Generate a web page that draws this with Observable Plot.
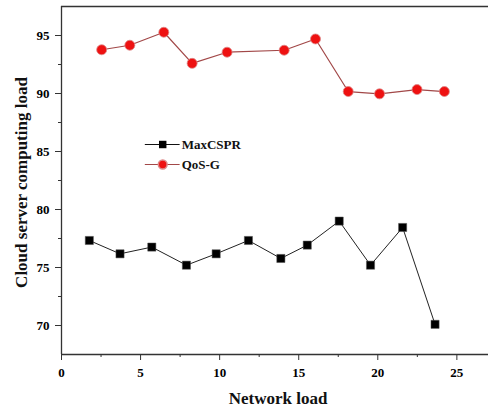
<!DOCTYPE html>
<html>
<head>
<meta charset="utf-8">
<script src="https://cdn.jsdelivr.net/npm/d3@7"></script>
<script src="https://cdn.jsdelivr.net/npm/@observablehq/plot@0.6"></script>
<style>
  html, body { margin: 0; padding: 0; background: #fff; }
  #chart svg { display: block; }
</style>
</head>
<body>
<div id="chart"></div>
<script>
// ---- data ----
const maxX = [1.76, 3.70, 5.71, 7.90, 9.78, 11.82, 13.87, 15.54, 17.56, 19.54, 21.57, 23.62];
const maxY = [77.33, 76.18, 76.76, 75.20, 76.18, 77.33, 75.78, 76.93, 79.00, 75.20, 78.45, 70.10];
const qosX = [2.54, 4.32, 6.47, 8.26, 10.47, 14.08, 16.06, 18.13, 20.11, 22.48, 24.21];
const qosY = [93.77, 94.16, 95.28, 92.60, 93.56, 93.73, 94.70, 90.17, 89.97, 90.34, 90.17];
const xTicks = [0, 5, 10, 15, 20, 25];
const xMinor = [2.5, 7.5, 12.5, 17.5, 22.5];
const yTicks = [70, 75, 80, 85, 90, 95];
const yMinor = [72.5, 77.5, 82.5, 87.5, 92.5];
const legendLabels = ["MaxCSPR", "QoS-G"];
const xTitle = "Network load";
const yTitle = "Cloud server computing load";

const maxData = maxX.map((x, i) => ({x, y: maxY[i]}));
const qosData = qosX.map((x, i) => ({x, y: qosY[i]}));

const font = "'Liberation Serif', 'Times New Roman', serif";
const axisCol = "#333";
const redFill = "#ee1111";
const redLine = "#a24848";

const legendItems = [
  {label: legendLabels[0], dy: 138, stroke: "#111", fill: "#000", symbol: "square", r: 4.2},
  {label: legendLabels[1], dy: 158, stroke: redLine, fill: redFill, symbol: "circle", r: 4.4}
];

const chart = Plot.plot({
  width: 488,
  height: 409,
  marginLeft: 61,
  marginRight: 0,
  marginTop: 6,
  marginBottom: 55,
  style: {fontFamily: font, fontWeight: "bold", background: "#fff", overflow: "visible"},
  x: {domain: [0, 27]},
  y: {domain: [67.5, 97.5]},
  marks: [
    // frame lines
    Plot.ruleY([97.5], {stroke: axisCol, strokeWidth: 1.6}),
    Plot.ruleX([0], {stroke: axisCol, strokeWidth: 1.3}),
    Plot.ruleY([67.5], {stroke: axisCol, strokeWidth: 1.3}),
    // axes
    Plot.axisX({ticks: xTicks, tickSize: 6, tickPadding: 7, fontSize: 13, fontWeight: "bold", stroke: axisCol, label: null, tickFormat: d => String(d)}),
    Plot.axisX({ticks: xMinor, tickSize: 3, stroke: axisCol, label: null, tickFormat: () => ""}),
    Plot.axisY({ticks: yTicks, tickSize: 6, tickPadding: 6, fontSize: 13, fontWeight: "bold", stroke: axisCol, label: null, tickFormat: d => String(d)}),
    Plot.axisY({ticks: yMinor, tickSize: 3, stroke: axisCol, label: null, tickFormat: () => ""}),
    // series
    Plot.line(maxData, {x: "x", y: "y", stroke: "#222", strokeWidth: 1}),
    Plot.dot(maxData, {x: "x", y: "y", symbol: "square", r: 4.6, fill: "#000", stroke: "#555", strokeWidth: 0.5}),
    Plot.line(qosData, {x: "x", y: "y", stroke: redLine, strokeWidth: 1.2}),
    Plot.dot(qosData, {x: "x", y: "y", symbol: "circle", r: 5, fill: redFill, stroke: "#d88", strokeWidth: 0.8}),
    // legend
    ...legendItems.flatMap(it => [
      Plot.ruleY([0], {x1: 5.3, x2: 7.5, y: () => 97.5 - it.dy / 11.6, stroke: it.stroke, strokeWidth: 1.2}),
      Plot.dot([0], {x: () => 6.4, y: () => 97.5 - it.dy / 11.6, symbol: it.symbol, r: it.r, fill: it.fill, stroke: it.symbol === "circle" ? "#d88" : "none"}),
      Plot.text([it.label], {x: () => 7.6, y: () => 97.5 - it.dy / 11.6, text: d => d, textAnchor: "start", fontSize: 13, fontWeight: "bold", fill: "#111"})
    ]),
    // axis titles
    Plot.text([xTitle], {frameAnchor: "bottom", dx: 3, dy: 44, text: d => d, fontSize: 17, fontWeight: "bold", fill: "#111", textAnchor: "middle", lineAnchor: "middle"}),
    Plot.text([yTitle], {frameAnchor: "left", dx: -40, dy: 2, rotate: -90, text: d => d, fontSize: 17, fontWeight: "bold", fill: "#111", textAnchor: "middle", lineAnchor: "middle"})
  ]
});
document.getElementById("chart").appendChild(chart);
</script>
</body>
</html>
